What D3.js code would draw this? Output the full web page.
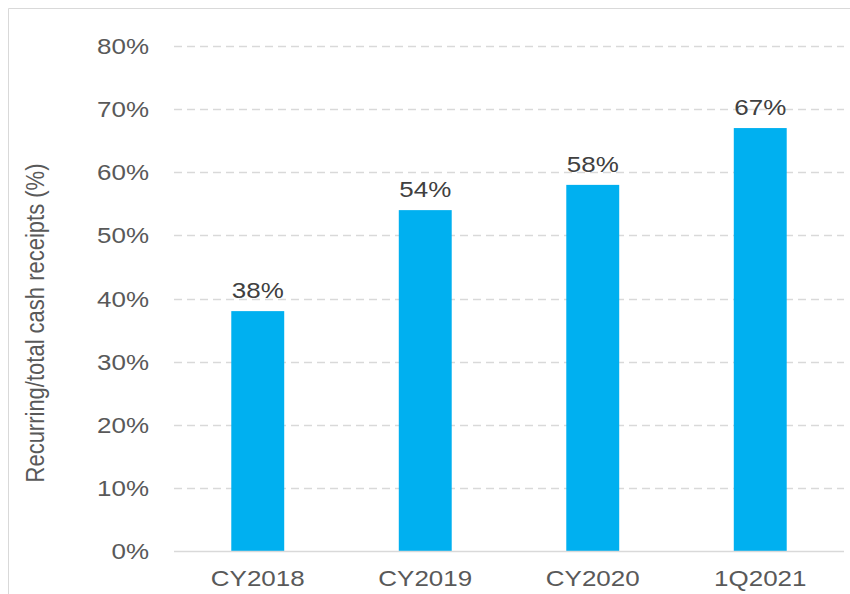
<!DOCTYPE html>
<html>
<head>
<meta charset="utf-8">
<script src="https://cdn.jsdelivr.net/npm/d3@7"></script>
<style>
  html, body { margin: 0; padding: 0; background: #fff; }
  svg { display: block; }
  text { font-family: "Liberation Sans", Arial, sans-serif; }
</style>
</head>
<body>
<script>
const categories = ["CY2018", "CY2019", "CY2020", "1Q2021"];
const values = [38, 54, 58, 67];
const yTicks = [0, 10, 20, 30, 40, 50, 60, 70, 80];
const yTitle = "Recurring/total cash receipts (%)";

const W = 850, H = 594;
const SX = 1.18; // horizontal text stretch seen in the reference
const plot = { left: 174, right: 844, top: 46, bottom: 551 };

const svg = d3.select("body").append("svg").attr("width", W).attr("height", H);

// outer frame (top and left edges visible)
svg.append("line").attr("x1", 8.5).attr("x2", W).attr("y1", 8.5).attr("y2", 8.5)
  .attr("stroke", "#d9d9d9").attr("stroke-width", 1);
svg.append("line").attr("x1", 8.5).attr("x2", 8.5).attr("y1", 8.5).attr("y2", H)
  .attr("stroke", "#d9d9d9").attr("stroke-width", 1);

const x = d3.scaleBand().domain(categories).range([plot.left, plot.right])
  .paddingInner(0.684).paddingOuter(0.342);
const y = d3.scaleLinear().domain([0, 80]).range([plot.bottom, plot.top]);

// gridlines
svg.append("g").selectAll("line").data(yTicks.filter(d => d > 0)).join("line")
  .attr("x1", plot.left).attr("x2", plot.right)
  .attr("y1", d => Math.round(y(d)) + 0.5).attr("y2", d => Math.round(y(d)) + 0.5)
  .attr("stroke", "#d9d9d9").attr("stroke-width", 1.3)
  .attr("stroke-dasharray", "8,5");

// y tick labels
svg.append("g").selectAll("text").data(yTicks).join("text")
  .attr("transform", d => `translate(149,${y(d) + 8}) scale(${SX},1)`)
  .attr("text-anchor", "end")
  .attr("font-size", 22)
  .attr("fill", "#595959")
  .text(d => d + "%");

// bars
svg.append("g").selectAll("rect").data(values).join("rect")
  .attr("x", (d, i) => x(categories[i]))
  .attr("width", x.bandwidth())
  .attr("y", d => y(d))
  .attr("height", d => y(0) - y(d))
  .attr("fill", "#00b0f0");

// baseline
svg.append("line").attr("x1", plot.left).attr("x2", plot.right)
  .attr("y1", Math.round(y(0)) + 0.5).attr("y2", Math.round(y(0)) + 0.5)
  .attr("stroke", "#d9d9d9").attr("stroke-width", 1.5);

// data labels
svg.append("g").selectAll("text").data(values).join("text")
  .attr("transform", (d, i) => `translate(${x(categories[i]) + x.bandwidth() / 2},${y(d) - 13}) scale(${SX},1)`)
  .attr("text-anchor", "middle")
  .attr("font-size", 22)
  .attr("fill", "#404040")
  .text(d => d + "%");

// x labels
svg.append("g").selectAll("text").data(categories).join("text")
  .attr("transform", d => `translate(${x(d) + x.bandwidth() / 2},586) scale(${SX},1)`)
  .attr("text-anchor", "middle")
  .attr("font-size", 22)
  .attr("fill", "#595959")
  .text(d => d);

// y title
svg.append("text")
  .attr("transform", `translate(44,323) scale(${SX},1) rotate(-90)`)
  .attr("text-anchor", "middle")
  .attr("font-size", 22)
  .attr("fill", "#595959")
  .text(yTitle);
</script>
</body>
</html>
